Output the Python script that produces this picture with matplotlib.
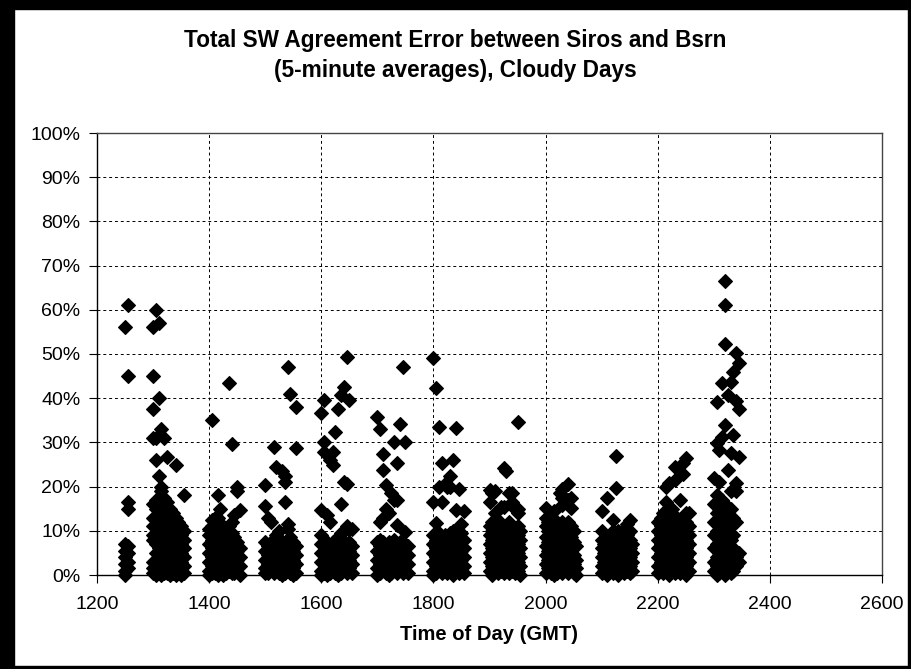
import matplotlib
matplotlib.use('Agg')
import matplotlib.pyplot as plt
from matplotlib.patches import Rectangle
from matplotlib.ticker import PercentFormatter

plt.rcParams['font.family'] = ['Liberation Sans', 'DejaVu Sans']

# error (%), per hour, one list per 5-minute slot (:00 .. :55)
err_12 = [[], [], [], [], [], [], [], [], [], [],
          [56, 7, 5.5, 4, 2.5, 1, 0],
          [61, 45, 16.5, 15, 6.5, 5, 3, 1.5]]

err_13 = [[56, 45, 37.5, 31, 16, 13, 11, 9, 8, 3, 1.5, 0.5],
          [60, 31, 26, 17, 15, 13, 11, 9, 7, 5, 3, 1, 0],
          [57, 40, 22.5, 16, 14, 12, 10, 8, 6, 4, 2, 0.5],
          [33, 20, 19, 17, 15, 13, 11, 9, 7, 5, 3, 1, 0],
          [31, 17.5, 15.5, 13.5, 11.5, 9.5, 7.5, 5.5, 3.5, 1.5, 0.5],
          [26.7, 16.5, 14.5, 12.5, 10.5, 8.5, 6.5, 4.5, 2.5, 0.5],
          [15, 13, 11, 9, 7, 5, 3, 1, 0],
          [14, 12, 10, 8, 6, 4, 2, 0.5],
          [25, 13, 11, 9, 7, 5, 3, 1, 0],
          [12, 10, 8, 6, 4, 2, 0.5],
          [11, 9, 7, 5, 3, 1, 0],
          [18, 10, 8, 6, 4, 2, 0.5]]

err_14 = [[10.5, 9, 7, 5, 3, 1, 0],
          [35, 12.5, 11, 8, 6, 4, 2, 0.5],
          [13, 10, 8.5, 6.5, 4.5, 2.5, 0.5],
          [18, 13, 11, 9, 7, 5, 3, 1, 0],
          [15, 10, 8, 6, 4, 2, 0.5],
          [11, 9, 7, 5, 3, 1, 0],
          [10, 8, 6, 4, 2, 0.5],
          [43.5, 11, 9, 7, 5, 3, 1],
          [29.7, 12, 9.5, 7.5, 5.5, 3.5, 1.5, 0.5],
          [13.5, 8.5, 6.5, 4.5, 2.5, 0.5],
          [20, 19, 7.5, 5.5, 3.5, 1.5],
          [14.7, 6, 4, 2, 0]]

err_15 = [[20.4, 15.5, 7.5, 5.5, 3.5, 1.5, 0.5],
          [13, 6.5, 4.5, 2.5, 0.5],
          [12, 7.5, 5.5, 3.5, 1.5],
          [29, 6.5, 4.5, 2.5, 0.5],
          [24.4, 9, 7.5, 5.5, 3.5, 1.5],
          [10, 6.5, 4.5, 2.5, 0.5],
          [23.5, 7.5, 5.5, 3.5, 1.5, 0],
          [22.5, 21, 16.5, 6.5, 4.5, 2.5, 0.5],
          [47, 11.5, 10.5, 7.5, 5.5, 3.5, 1.5],
          [41, 8.5, 6.5, 4.5, 2.5, 0.5],
          [7.5, 5.5, 3.5, 1.5, 0],
          [38, 28.7, 6.5, 4.5, 2.5, 0.5]]

err_16 = [[36.6, 14.7, 9, 7, 5, 3, 1, 0],
          [39.6, 30, 27.8, 6.5, 4.5, 2.5, 0.5],
          [13.5, 7.5, 5.5, 3.5, 1.5, 0],
          [26, 12, 6.5, 4.5, 2.5, 0.5],
          [27.8, 25, 7.5, 5.5, 3.5, 1.5],
          [32.4, 7, 4.5, 2.5, 0.5],
          [37.5, 8.5, 5.5, 3.5, 1.5, 0],
          [40.7, 16, 9.5, 6.5, 4.5, 2.5, 0.5],
          [42.6, 21, 10, 7.5, 5.5, 3.5, 1.5],
          [49.3, 20.5, 11, 6.5, 4.5, 2.5, 0.5],
          [39.6, 10.5, 7.5, 5.5, 3.5, 1.5],
          [10.5, 6.5, 4.5, 2.5, 0.5]]

err_17 = [[35.8, 7.5, 5.5, 3.5, 1.5, 0],
          [33, 12, 8, 6.5, 4.5, 2.5, 0.5],
          [27.4, 23.8, 13, 7.5, 5.5, 3.5, 1.5],
          [20.4, 15, 6.5, 4.5, 2.5, 0.5],
          [14, 7.5, 5.5, 3.5, 1.5, 0],
          [18.5, 6.5, 4.5, 2.5, 0.5],
          [30, 17, 8, 5.5, 3.5, 1.5],
          [25.3, 17, 11.3, 6.5, 4.5, 2.5, 0.5],
          [34.2, 7.5, 5.5, 3.5, 1.5],
          [47, 6.5, 4.5, 2.5, 0.5],
          [30, 9.8, 7, 5, 3, 1],
          [6.5, 4.5, 2.5, 0.5]]

err_18 = [[49, 16.5, 9, 7, 5, 3, 1, 0],
          [42.3, 11.8, 8, 6, 4, 2, 0.5],
          [33.5, 20, 9.5, 7.5, 5.5, 3.5, 1.5],
          [25.3, 16.5, 8.5, 6.5, 4.5, 2.5, 0.5],
          [20.5, 9, 7, 5, 3, 1],
          [20, 8.5, 6.5, 4.5, 2.5, 0.5],
          [22.4, 20, 9.5, 7.5, 5.5, 3.5, 1.5],
          [26, 10, 8, 6, 4, 2, 0],
          [33.2, 14.7, 9, 7, 5, 3, 1],
          [19.5, 8.5, 6.5, 4.5, 2.5, 0.5],
          [11.5, 9.5, 7.5, 5.5, 3.5, 1.5],
          [14.5, 8, 6, 4, 2, 0.5]]

err_19 = [[19.2, 16.5, 11, 9, 7, 5, 3, 1],
          [18.5, 12, 10, 8, 6, 4, 2, 0],
          [19, 14, 11, 9, 7, 5, 3, 1],
          [12.5, 10, 8, 6, 4, 2, 0.5],
          [15.3, 11, 9, 7, 5, 3, 1],
          [24.2, 15.3, 10, 8, 6, 4, 2, 0.5],
          [23.5, 11, 9, 7, 5, 3, 1],
          [18.5, 12, 10, 8, 6, 4, 2, 0.5],
          [18.5, 16.5, 11, 9, 7, 5, 3, 1],
          [15, 10, 8, 6, 4, 2, 0.5],
          [34.6, 15, 14, 11, 9, 7, 5, 3, 1],
          [10, 8, 6, 4, 2, 0]]

err_20 = [[15.2, 13, 11, 8.5, 6.5, 4.5, 2.5, 0.5],
          [12, 10, 7.5, 5.5, 3.5, 1.5],
          [11, 8.5, 6.5, 4.5, 2.5, 0.5],
          [14.5, 10, 7.5, 5.5, 3.5, 1.5, 0],
          [12, 9, 6.5, 4.5, 2.5, 0.5],
          [18.5, 11, 7.5, 5.5, 3.5, 1.5],
          [19.5, 17.5, 15.8, 12, 10, 6.5, 4.5, 2.5, 0.5],
          [11, 8.5, 7.5, 5.5, 3.5, 1.5],
          [20.6, 17, 12, 10, 6.5, 4.5, 2.5, 0.5],
          [17.4, 15.2, 11, 8.5, 5.5, 3.5, 1.5],
          [10, 7.5, 4.5, 2.5, 0.5],
          [6.5, 3.5, 1.5, 0]]

err_21 = [[14.5, 10, 8, 6, 4, 2, 0.5],
          [7, 5, 3, 1],
          [17.4, 8.5, 6.5, 4.5, 2.5, 0.5, 0],
          [9, 7, 5, 3, 1],
          [12.4, 10, 8, 6, 4, 2, 0.5],
          [26.9, 19.7, 9, 7, 5, 3, 1],
          [10, 8, 6, 4, 2, 0],
          [9, 7, 5, 3, 1],
          [10.5, 8, 6, 4, 2, 0.5],
          [11.5, 9, 7, 5, 3, 1],
          [12.4, 10, 8, 6, 4, 2, 0.5],
          [7, 5, 3, 1]]

err_22 = [[12, 10, 8, 6, 4, 2, 0.5],
          [13, 11, 9, 7, 5, 3, 1],
          [14, 12, 10, 8, 6, 4, 2, 0.5],
          [20, 16.5, 13, 11, 9, 7, 5, 3, 1],
          [20.8, 14, 12, 10, 8, 6, 4, 2, 0],
          [15, 13, 11, 9, 7, 5, 3, 1],
          [24.4, 21.5, 12, 10, 8, 6, 4, 2, 0.5],
          [13, 11, 9, 7, 5, 3, 1],
          [17, 12, 10, 8, 6, 4, 2, 0.5],
          [25.3, 22.8, 13, 11, 9, 7, 5, 3, 1],
          [26.5, 14, 12, 10, 8, 6, 4, 2, 0],
          [14, 11, 9, 7, 5, 3, 1]]

err_23 = [[21.9, 16, 12, 9, 6, 3, 1],
          [39.1, 29.9, 18, 14, 10, 7, 4, 2, 0],
          [28.3, 21, 15, 11, 8, 5, 2.5, 0.5],
          [43.4, 31.3, 17, 13, 9, 6, 3, 1],
          [66.5, 61, 52.3, 33.9, 16, 12, 8, 5, 2, 0],
          [40.7, 23.8, 14, 10, 7, 4, 1.5],
          [43.7, 27.6, 19, 15, 11, 8, 5, 2.5, 0.5],
          [46, 31.7, 13, 9, 6, 3, 1],
          [50.2, 39.4, 20.8, 19, 12, 4, 2],
          [48, 37.5, 26.7, 5, 3],
          [],
          []]

hours = [12, 13, 14, 15, 16, 17, 18, 19, 20, 21, 22, 23]
errors = [err_12, err_13, err_14, err_15, err_16, err_17,
          err_18, err_19, err_20, err_21, err_22, err_23]

x_ticks = [1200, 1400, 1600, 1800, 2000, 2200, 2400, 2600]
y_ticks = [0, 10, 20, 30, 40, 50, 60, 70, 80, 90, 100]

# times as HHMM numbers, like the spreadsheet
times = []
vals = []
for h, slots in zip(hours, errors):
    for i, col in enumerate(slots):
        for v in col:
            times.append(h * 100 + i * 5)
            vals.append(v)

W, H = 911, 669
fig = plt.figure(figsize=(W / 100, H / 100), dpi=100)
ax = fig.add_axes([97 / W, 1 - 575 / H, 785 / W, 442 / H])

ax.plot(times, vals, 'D', color='black', ms=7, mec='black', mew=0.8,
        ls='none', clip_on=False, zorder=5)

ax.set_xlim(1200, 2600)
ax.set_ylim(0, 100)
ax.set_xticks(x_ticks)
ax.set_yticks(y_ticks)
ax.yaxis.set_major_formatter(PercentFormatter(xmax=100, decimals=0))
ax.tick_params(axis='both', direction='out', length=6, width=0.8,
               labelsize=14, color='black')
ax.tick_params(axis='y', pad=6)
ax.tick_params(axis='x', pad=9)
ax.grid(True, color='black', linestyle=(0, (3, 3)), linewidth=0.7)
ax.set_axisbelow(True)
for side in ['left', 'bottom']:
    ax.spines[side].set_color('black')
    ax.spines[side].set_linewidth(1)
for side in ['top', 'right']:
    ax.spines[side].set_color('#444444')
    ax.spines[side].set_linewidth(1)

ax.set_xlabel('Time of Day (GMT)', fontsize=14.5, fontweight='bold', labelpad=9)

fig.text(0.5, 1 - 41 / H, 'Total SW Agreement Error between Siros and Bsrn',
         ha='center', va='center', fontsize=16.3, fontweight='bold')
fig.text(0.5, 1 - 70 / H, '(5-minute averages), Cloudy Days',
         ha='center', va='center', fontsize=16.3, fontweight='bold')

# heavy frame round the chart, like the screenshot
fig.patches.append(Rectangle((0, 0), 14 / W, 1, transform=fig.transFigure,
                             color='black', zorder=10))
fig.patches.append(Rectangle((0, 1 - 9 / H), 1, 9 / H, transform=fig.transFigure,
                             color='black', zorder=10))
fig.patches.append(Rectangle((1 - 3 / W, 0), 3 / W, 1, transform=fig.transFigure,
                             color='black', zorder=10))
fig.patches.append(Rectangle((0, 0), 1, 3 / H, transform=fig.transFigure,
                             color='black', zorder=10))

fig.savefig('out.png', dpi=100)
